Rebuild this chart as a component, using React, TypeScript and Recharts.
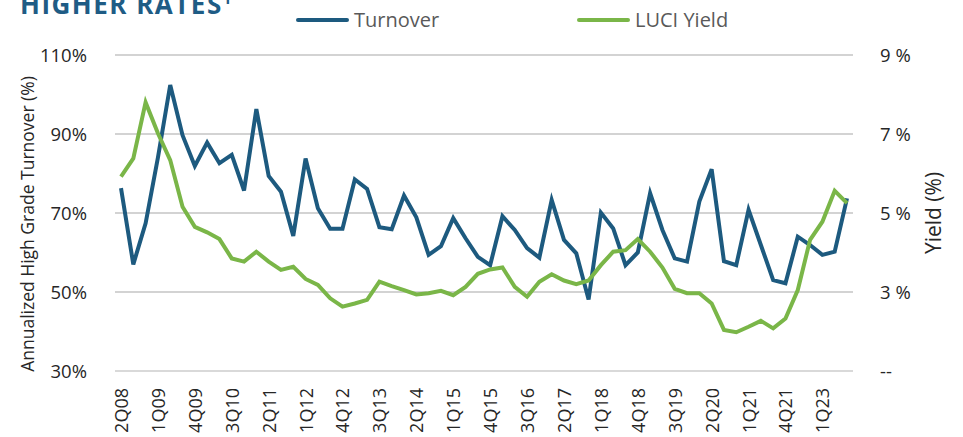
import { CartesianGrid, Legend, Line, LineChart, XAxis, YAxis } from "recharts";

const quarters = [
  "2Q08", "3Q08", "4Q08", "1Q09", "2Q09", "3Q09", "4Q09", "1Q10", "2Q10", "3Q10",
  "4Q10", "1Q11", "2Q11", "3Q11", "4Q11", "1Q12", "2Q12", "3Q12", "4Q12", "1Q13",
  "2Q13", "3Q13", "4Q13", "1Q14", "2Q14", "3Q14", "4Q14", "1Q15", "2Q15", "3Q15",
  "4Q15", "1Q16", "2Q16", "3Q16", "4Q16", "1Q17", "2Q17", "3Q17", "4Q17", "1Q18",
  "2Q18", "3Q18", "4Q18", "1Q19", "2Q19", "3Q19", "4Q19", "1Q20", "2Q20", "3Q20",
  "4Q20", "1Q21", "2Q21", "3Q21", "4Q21", "1Q22", "2Q22", "1Q23", "2Q23", "3Q23",
];

// annualized high grade turnover, %
const turnover = [
  76.3, 57.0, 67.4, 84.0, 102.4, 89.7, 81.9, 87.8, 82.6, 84.7,
  75.7, 96.3, 79.4, 75.4, 64.2, 83.8, 71.2, 66.0, 66.0, 78.5,
  76.1, 66.4, 65.9, 74.4, 68.9, 59.4, 61.6, 68.7, 63.6, 58.9,
  56.8, 69.2, 65.7, 61.1, 58.7, 73.3, 63.2, 59.8, 48.1, 70.1,
  66.1, 56.8, 60.0, 75.0, 65.7, 58.5, 57.7, 72.9, 81.1, 57.8,
  56.8, 70.8, 61.9, 53.0, 52.2, 64.0, 61.9, 59.4, 60.2, 73.7,
];

// LUCI yield, %
const luciYield = [
  5.92, 6.38, 7.8, 7.02, 6.34, 5.16, 4.65, 4.51, 4.34, 3.85,
  3.77, 4.02, 3.77, 3.56, 3.64, 3.33, 3.18, 2.84, 2.63, 2.71,
  2.8, 3.26, 3.15, 3.05, 2.94, 2.97, 3.03, 2.92, 3.13, 3.46,
  3.57, 3.62, 3.13, 2.88, 3.26, 3.45, 3.29, 3.2, 3.29, 3.68,
  4.02, 4.06, 4.34, 4.02, 3.62, 3.08, 2.97, 2.97, 2.71, 2.04,
  1.98, 2.12, 2.27, 2.08, 2.33, 3.05, 4.32, 4.78, 5.56, 5.25,
];

const turnoverTicks = [30, 50, 70, 90, 110];
const yieldTicks = [1, 3, 5, 7, 9];
const legendOrder = ["Turnover", "LUCI Yield"];

const data = quarters.map((q, i) => ({ q, turnover: turnover[i], yield: luciYield[i] }));

const FONT = "'Open Sans', 'Noto Sans', sans-serif";
const BLUE = "#1d5a7f";
const GREEN = "#7ab648";

const QuarterTick = ({ x, y, payload }: any) => (
  <g transform={`translate(${x},${y})`}>
    <text
      transform="rotate(-90)"
      x={-9}
      y={0}
      textAnchor="end"
      dominantBaseline="central"
      fontSize={18}
      fontFamily={FONT}
      fill="#262626"
    >
      {payload.value}
    </text>
  </g>
);

// rotated axis titles, drawn on an svg laid over the chart
const AxisTitle = ({ cx, cy, size, text }: { cx: number; cy: number; size: number; text: string }) => (
  <text
    x={cx}
    y={cy}
    transform={`rotate(-90 ${cx} ${cy})`}
    textAnchor="middle"
    dominantBaseline="central"
    fontSize={size}
    fontFamily={FONT}
    fill="#262626"
  >
    {text}
  </text>
);

const renderLegend = (props: any) => {
  const items = [...props.payload].sort(
    (a: any, b: any) => legendOrder.indexOf(a.value) - legendOrder.indexOf(b.value)
  );
  return (
    <div style={{ display: "flex", paddingLeft: 296, fontFamily: FONT }}>
      {items.map((entry: any) => (
        <div key={entry.value} style={{ display: "flex", alignItems: "center", width: 281 }}>
          <span
            style={{
              display: "inline-block",
              width: 53,
              height: 4,
              borderRadius: 2,
              background: entry.color,
              marginRight: 5,
            }}
          />
          <span style={{ fontSize: 20, color: "#595959" }}>{entry.value}</span>
        </div>
      ))}
    </div>
  );
};

export default function App() {
  return (
    <div style={{ position: "absolute", left: 0, top: 0, width: 963, height: 437, background: "#fff", overflow: "hidden" }}>
      <LineChart
        width={963}
        height={437}
        data={data}
        margin={{ top: 55, right: 0, bottom: 0, left: 0 }}
        style={{ position: "absolute", left: 0, top: 0 }}
      >
        <CartesianGrid yAxisId="left" vertical={false} stroke="#c4c4c4" strokeWidth={1.5} />
        <XAxis
          dataKey="q"
          interval={2}
          height={66}
          padding={{ left: 6, right: 6 }}
          tick={<QuarterTick />}
          tickLine={false}
          axisLine={{ stroke: "#d9d9d9", strokeWidth: 2 }}
        />
        <YAxis
          yAxisId="left"
          width={115}
          domain={[30, 110]}
          ticks={turnoverTicks}
          tickFormatter={(v: number) => `${v}%`}
          tickSize={0}
          tickMargin={28}
          axisLine={false}
          tick={{ fontSize: 18.5, fontFamily: FONT, fill: "#262626" }}
        />
        <YAxis
          yAxisId="right"
          orientation="right"
          width={110}
          domain={[1, 9]}
          ticks={yieldTicks}
          tickFormatter={(v: number) => (v === 1 ? "--" : `${v} %`)}
          tickSize={0}
          tickMargin={27}
          axisLine={false}
          tick={{ fontSize: 18.5, fontFamily: FONT, fill: "#262626" }}
        />
        <Legend
          verticalAlign="middle"
          align="center"
          layout="horizontal"
          content={renderLegend}
          wrapperStyle={{ top: 6, left: 0, width: 963 }}
        />
        <Line
          yAxisId="left"
          dataKey="turnover"
          name="Turnover"
          stroke={BLUE}
          strokeWidth={4}
          dot={false}
          isAnimationActive={false}
        />
        <Line
          yAxisId="right"
          dataKey="yield"
          name="LUCI Yield"
          stroke={GREEN}
          strokeWidth={4}
          dot={false}
          isAnimationActive={false}
        />
      </LineChart>
      <svg
        width={963}
        height={437}
        style={{ position: "absolute", left: 0, top: 0, pointerEvents: "none" }}
      >
        <AxisTitle cx={27} cy={224} size={17.5} text="Annualized High Grade Turnover (%)" />
        <AxisTitle cx={933} cy={213} size={21} text="Yield (%)" />
      </svg>
      <div
        style={{
          position: "absolute",
          left: 20,
          top: -17,
          fontFamily: FONT,
          fontWeight: 700,
          fontSize: 26,
          letterSpacing: 1.5,
          color: "#1f5c85",
          lineHeight: "30px",
          whiteSpace: "nowrap",
        }}
      >
        HIGHER RATES<sup style={{ fontSize: 15 }}>1</sup>
      </div>
    </div>
  );
}
